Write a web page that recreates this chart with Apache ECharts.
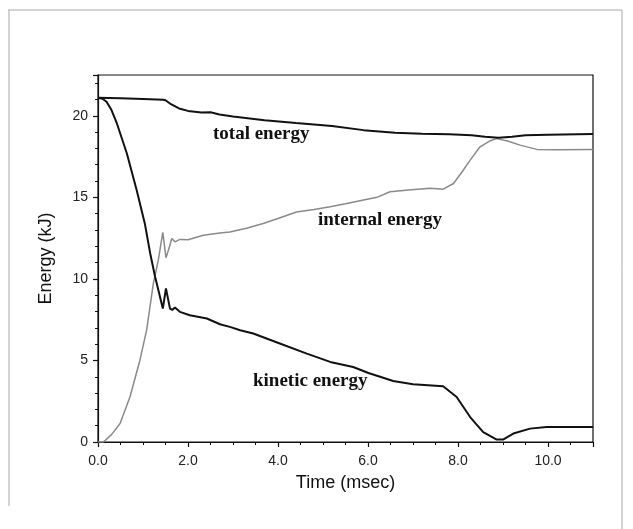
<!DOCTYPE html>
<html>
<head>
<meta charset="utf-8">
<script src="https://cdn.jsdelivr.net/npm/echarts@6/dist/echarts.min.js"></script>
<style>
html,body{margin:0;padding:0;background:#fff;}
#c{width:633px;height:529px;}
</style>
</head>
<body>
<div id="c"></div>
<script>
// Total energy
const totalTime   = [0, 0.5, 1.0, 1.45, 1.5, 1.6, 1.8, 2.0, 2.3, 2.5, 2.7, 3.0, 3.7, 4.4, 5.2, 5.9, 6.6, 7.2, 7.8, 8.3, 8.6, 8.9, 9.2, 9.5, 10.0, 11.0];
const totalEnergy = [21.1, 21.07, 21.03, 20.98, 20.95, 20.75, 20.45, 20.3, 20.2, 20.22, 20.08, 19.95, 19.73, 19.55, 19.37, 19.12, 18.96, 18.9, 18.86, 18.8, 18.72, 18.65, 18.72, 18.8, 18.84, 18.88];

// Internal energy
const internalTime   = [0, 0.12, 0.3, 0.49, 0.71, 0.93, 1.08, 1.23, 1.34, 1.44, 1.51, 1.57, 1.64, 1.71, 1.82, 2.0, 2.34, 2.71, 2.93, 3.3, 3.67, 4.0, 4.41, 4.8, 5.16, 5.5, 5.9, 6.2, 6.49, 6.9, 7.38, 7.67, 7.9, 8.1, 8.27, 8.49, 8.7, 8.86, 9.1, 9.38, 9.75, 10.2, 11.0];
const internalEnergy = [0, 0, 0.45, 1.13, 2.76, 5.0, 6.85, 9.72, 11.15, 12.85, 11.3, 11.8, 12.48, 12.27, 12.42, 12.4, 12.68, 12.82, 12.88, 13.1, 13.4, 13.7, 14.1, 14.25, 14.42, 14.6, 14.83, 15.0, 15.34, 15.45, 15.55, 15.5, 15.85, 16.6, 17.28, 18.1, 18.45, 18.6, 18.45, 18.2, 17.94, 17.92, 17.94];

// Kinetic energy
const kineticTime   = [0, 0.1, 0.19, 0.3, 0.42, 0.64, 0.86, 1.04, 1.16, 1.27, 1.36, 1.44, 1.51, 1.6, 1.65, 1.71, 1.82, 2.04, 2.42, 2.71, 2.93, 3.16, 3.45, 4.04, 4.64, 5.16, 5.67, 6.01, 6.56, 7.0, 7.67, 7.97, 8.27, 8.56, 8.86, 9.0, 9.23, 9.6, 9.97, 11.0];
const kineticEnergy = [21.1, 21.04, 20.86, 20.35, 19.53, 17.7, 15.44, 13.4, 11.56, 10.12, 9.1, 8.18, 9.41, 8.18, 8.1, 8.24, 7.98, 7.77, 7.57, 7.22, 7.06, 6.85, 6.65, 6.04, 5.42, 4.91, 4.6, 4.23, 3.74, 3.54, 3.42, 2.76, 1.53, 0.61, 0.15, 0.15, 0.52, 0.82, 0.92, 0.92];

const seriesNames = ['total energy', 'internal energy', 'kinetic energy'];
const xAxisTitle = 'Time (msec)';
const yAxisTitle = 'Energy (kJ)';

function pairs(t, v) { return t.map((x, i) => [x, v[i]]); }

const chart = echarts.init(document.getElementById('c'), null, {renderer: 'canvas'});
const sans = '"Liberation Sans", Arial, sans-serif';
const serif = '"Liberation Serif", "Times New Roman", serif';

chart.setOption({
  backgroundColor: '#fff',
  animation: false,
  grid: {left: 98, right: 40, top: 75, bottom: 87, show: true, borderColor: '#111', borderWidth: 1.2, backgroundColor: 'transparent'},
  xAxis: {
    type: 'value', min: 0, max: 11, interval: 2,
    name: xAxisTitle, nameLocation: 'middle', nameGap: 32,
    nameTextStyle: {fontFamily: sans, fontSize: 18, color: '#111'},
    axisLine: {show: true, onZero: false, lineStyle: {color: '#111', width: 1.2}},
    axisTick: {show: true, inside: false, length: 5, lineStyle: {color: '#111', width: 1.2}},
    minorTick: {show: true, splitNumber: 4, length: 3, lineStyle: {color: '#111', width: 1}},
    splitLine: {show: false},
    axisLabel: {fontFamily: sans, fontSize: 14, color: '#222', margin: 12, formatter: v => v.toFixed(1), showMaxLabel: false}
  },
  yAxis: {
    type: 'value', min: 0, max: 22.5, interval: 5,
    name: yAxisTitle, nameLocation: 'middle', nameGap: 43, nameRotate: 90,
    nameTextStyle: {fontFamily: sans, fontSize: 18, color: '#111'},
    axisLine: {show: true, onZero: false, lineStyle: {color: '#111', width: 1.2}},
    axisTick: {show: true, inside: false, length: 5, lineStyle: {color: '#111', width: 1.2}},
    minorTick: {show: true, splitNumber: 5, length: 3, lineStyle: {color: '#111', width: 1}},
    splitLine: {show: false},
    axisLabel: {fontFamily: sans, fontSize: 14, color: '#222', margin: 10, showMaxLabel: false}
  },
  series: [
    {name: seriesNames[0], type: 'line', data: pairs(totalTime, totalEnergy), showSymbol: false, lineStyle: {color: '#111', width: 2}, z: 3},
    {name: seriesNames[1], type: 'line', data: pairs(internalTime, internalEnergy), showSymbol: false, lineStyle: {color: '#8a8a8a', width: 1.5}, z: 2},
    {name: seriesNames[2], type: 'line', data: pairs(kineticTime, kineticEnergy), showSymbol: false, lineStyle: {color: '#111', width: 2}, z: 3}
  ],
  graphic: [
    {type: 'line', shape: {x1: 8, y1: 10, x2: 622, y2: 10}, style: {stroke: '#aaa', lineWidth: 1}},
    {type: 'line', shape: {x1: 9, y1: 10, x2: 9, y2: 506}, style: {stroke: '#aaa', lineWidth: 1}},
    {type: 'line', shape: {x1: 622, y1: 10, x2: 622, y2: 529}, style: {stroke: '#aaa', lineWidth: 1}},
    {type: 'text', left: 213, top: 125, style: {text: seriesNames[0], font: 'bold 19px ' + serif, fill: '#111'}},
    {type: 'text', left: 318, top: 211, style: {text: seriesNames[1], font: 'bold 19px ' + serif, fill: '#111'}},
    {type: 'text', left: 253, top: 372, style: {text: seriesNames[2], font: 'bold 19px ' + serif, fill: '#111'}}
  ]
});
</script>
</body>
</html>
